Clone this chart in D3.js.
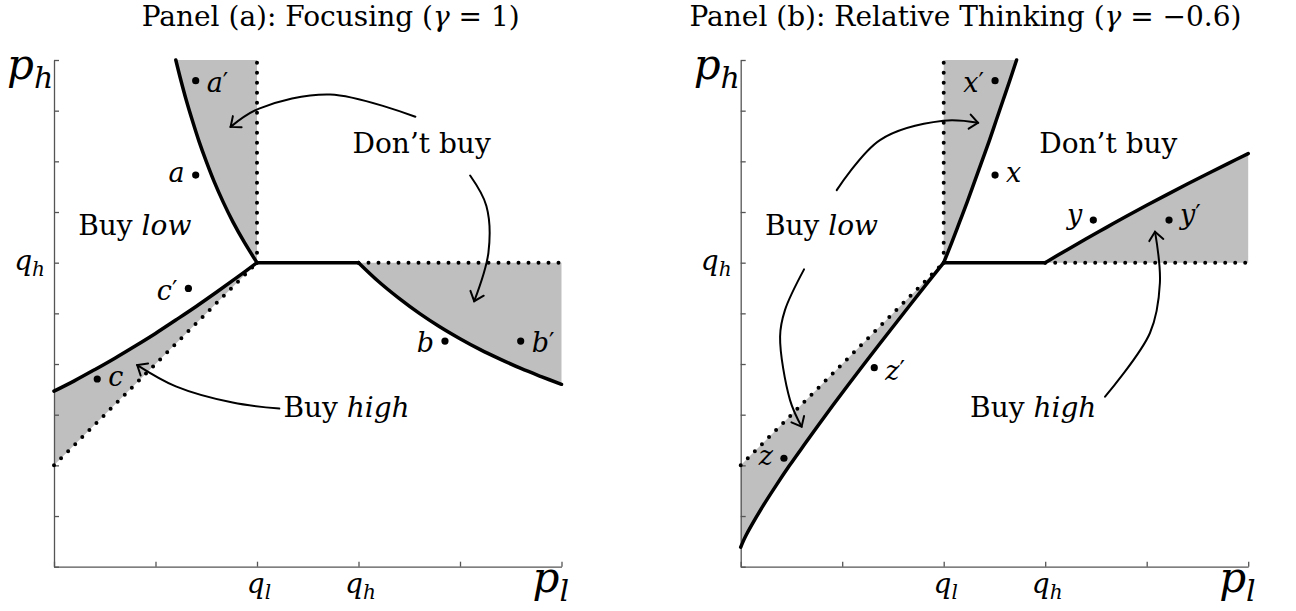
<!DOCTYPE html>
<html>
<head>
<meta charset="utf-8">
<script src="https://cdn.jsdelivr.net/npm/d3@7"></script>
<style>
  body { margin: 0; background: #fff; }
  svg text { font-family: "DejaVu Serif", serif; fill: #000; }
  .shade  { fill: #bfbfbf; stroke: none; }
  .thick  { fill: none; stroke: #000; stroke-width: 3.5; stroke-linejoin: round; stroke-linecap: round; }
  .dotted { fill: none; stroke: #000; stroke-width: 4; stroke-dasharray: 0 10; stroke-linecap: round; }
  .arrow  { fill: none; stroke: #000; stroke-width: 2; stroke-linecap: round; }
  .axis path, .axis line { stroke: #555; stroke-width: 1.3; }
</style>
</head>
<body>
<svg id="chart" width="1296" height="611"></svg>
<script>
// Boundaries in (p_l, p_h) space, q_l = 1, q_h = 1.5.

// Panel (a): focusing, gamma = 1
const focLowVsNone  = [[1.0,1.5],[0.938,1.6],[0.882,1.7],[0.833,1.8],[0.789,1.9],[0.75,2.0],
                       [0.714,2.1],[0.682,2.2],[0.652,2.3],[0.625,2.4],[0.6,2.5]];
const focHighVsNone = [[1.5,1.5],[1.6,1.406],[1.7,1.324],[1.8,1.25],[1.9,1.184],[2.0,1.125],
                       [2.1,1.071],[2.2,1.023],[2.3,0.978],[2.4,0.938],[2.5,0.9]];
const focLowVsHigh  = [[0,0.866],[0.1,0.917],[0.2,0.972],[0.3,1.029],[0.4,1.089],[0.5,1.151],
                       [0.6,1.217],[0.7,1.284],[0.8,1.354],[0.9,1.426],[1.0,1.5]];

// Panel (b): relative thinking, gamma = -0.6
const relLowVsNone  = [[1.0,1.5],[1.04,1.6],[1.078,1.7],[1.116,1.8],[1.152,1.9],[1.188,2.0],
                       [1.224,2.1],[1.258,2.2],[1.292,2.3],[1.326,2.4],[1.359,2.5]];
const relHighVsNone = [[1.5,1.5],[1.6,1.559],[1.7,1.617],[1.8,1.673],[1.9,1.729],[2.0,1.783],
                       [2.1,1.836],[2.2,1.888],[2.3,1.939],[2.4,1.989],[2.5,2.038]];
const relLowVsHigh  = [[0,0.096],[0.010,0.12],[0.024,0.15],[0.051,0.2],[0.110,0.3],[0.174,0.4],
                       [0.241,0.5],[0.312,0.6],[0.384,0.7],[0.457,0.8],[0.532,0.9],[0.608,1.0],
                       [0.685,1.1],[0.763,1.2],[0.841,1.3],[0.920,1.4],[1.0,1.5]];

// rational benchmarks (dotted) and the shared flat segment
const rationalLow    = [[1,1.5],[1,2.5]];
const rationalHigh   = [[1.5,1.5],[2.5,1.5]];
const rationalSwitch = [[0,0.5],[1,1.5]];
const flatSegment    = [[1,1.5],[1.5,1.5]];

// labelled price pairs
const pointsA = [
  { name: "a", prime: true,  p: [0.698, 2.398], side: "r", dy: 11 },
  { name: "a", prime: false, p: [0.698, 1.932], side: "l", dy: 7 },
  { name: "c", prime: true,  p: [0.662, 1.373], side: "l", dy: 12 },
  { name: "c", prime: false, p: [0.213, 0.926], side: "r", dy: 7 },
  { name: "b", prime: false, p: [1.926, 1.113], side: "l", dy: 11 },
  { name: "b", prime: true,  p: [2.299, 1.113], side: "r", dy: 11 }
];
const pointsB = [
  { name: "x", prime: true,  p: [1.253, 2.398], side: "l", dy: 11 },
  { name: "x", prime: false, p: [1.253, 1.932], side: "r", dy: 7 },
  { name: "y", prime: false, p: [1.737, 1.710], side: "l", dy: 4 },
  { name: "y", prime: true,  p: [2.110, 1.710], side: "r", dy: 4 },
  { name: "z", prime: true,  p: [0.658, 0.982], side: "r", dy: 12 },
  { name: "z", prime: false, p: [0.213, 0.535], side: "l", dy: 7 }
];

// axis ticks
const xTicks = [0, 0.5, 1, 1.5, 2, 2.5];
const yTicks = [0, 0.25, 0.5, 0.75, 1, 1.25, 1.5, 1.75, 2, 2.25, 2.5];
const xTickLabels = [{ v: 1, sub: "l" }, { v: 1.5, sub: "h" }];
const yTickLabels = [{ v: 1.5, sub: "h" }];

// region names (same spots in both panels)
const regionLabels = [
  { word: "Don’t buy", it: "",     p: [1.811, 2.042] },
  { word: "Buy ",      it: "low",  p: [0.398, 1.636] },
  { word: "Buy ",      it: "high", p: [1.441, 0.738] }
];

// arrows from region names to shaded areas
const arrowsA = [
  [[1.78,2.22],[1.36,2.33],[1.01,2.26],[0.87,2.17]],
  [[2.05,1.93],[2.13,1.78],[2.14,1.55],[2.07,1.31]],
  [[1.11,0.78],[0.88,0.81],[0.60,0.89],[0.41,0.995]]
];
const arrowsB = [
  [[0.473,1.858],[0.686,2.105],[0.998,2.200],[1.169,2.19]],
  [[0.312,1.467],[0.218,1.266],[0.194,1.135],[0.243,0.822],[0.300,0.691]],
  [[1.795,0.839],[2.016,1.153],[2.065,1.400],[2.041,1.653]]
];

const svg = d3.select('#chart');

function drawPanel(left, title, titleX, gammaText, curves, points, arrows) {
  const x = d3.scaleLinear().domain([0, 2.5]).range([left, left + 507.5]);
  const y = d3.scaleLinear().domain([0, 2.5]).range([566.7, 60]);
  const g = svg.append('g');

  const smooth = d3.line().x(d => x(d[0])).y(d => y(d[1])).curve(d3.curveCatmullRom);
  const straight = d3.line().x(d => x(d[0])).y(d => y(d[1]));

  // shaded regions: curve, then straight back along the rational boundary
  curves.forEach(c => {
    g.append('path').attr('class', 'shade')
      .attr('d', smooth(c.pts) + straight(c.close).replace('M', 'L') + 'Z');
  });

  // axes, ticks pointing inward
  g.append('g').attr('class', 'axis')
    .attr('transform', `translate(0,${y(0)})`)
    .call(d3.axisBottom(x).tickValues(xTicks).tickSizeInner(-5).tickSizeOuter(0).tickFormat(''));
  g.append('g').attr('class', 'axis')
    .attr('transform', `translate(${x(0)},0)`)
    .call(d3.axisLeft(y).tickValues(yTicks).tickSizeInner(-5).tickSizeOuter(0).tickFormat(''));

  [rationalLow, rationalHigh, rationalSwitch].forEach(d =>
    g.append('path').attr('class', 'dotted').attr('d', straight(d)));

  curves.forEach(c => g.append('path').attr('class', 'thick').attr('d', smooth(c.pts)));
  g.append('path').attr('class', 'thick').attr('d', straight(flatSegment));

  // tick labels
  xTickLabels.forEach(t => mathText(g, x(t.v) + 2, 593, 'q', t.sub, 28, 20, 'middle'));
  yTickLabels.forEach(t => mathText(g, x(0) - 9, y(t.v) + 7, 'q', t.sub, 28, 20, 'end'));
  mathText(g, x(0) - 47, 79, 'p', 'h', 42, 30, 'start');
  mathText(g, x(2.5) - 29, 592, 'p', 'l', 42, 30, 'start');

  // points
  g.selectAll('circle.pt').data(points).join('circle')
    .attr('class', 'pt')
    .attr('cx', d => x(d.p[0])).attr('cy', d => y(d.p[1])).attr('r', 3.6);
  const lab = g.selectAll('text.pt').data(points).join('text')
    .attr('class', 'pt')
    .attr('x', d => x(d.p[0]) + (d.side === 'r' ? 11 : -11))
    .attr('y', d => y(d.p[1]) + d.dy)
    .attr('text-anchor', d => d.side === 'r' ? 'start' : 'end')
    .style('font-size', '27px');
  lab.append('tspan').style('font-style', 'italic').text(d => d.name);
  lab.filter(d => d.prime).append('tspan')
    .attr('dy', -2).style('font-size', '24px').text('′');

  // region labels
  regionLabels.forEach(r => {
    const t = g.append('text').attr('x', x(r.p[0])).attr('y', y(r.p[1]))
      .attr('text-anchor', 'middle').style('font-size', '28px');
    t.append('tspan').text(r.word);
    if (r.it) t.append('tspan').style('font-style', 'italic').text(r.it);
  });

  // arrows
  arrows.forEach(a => {
    const p = g.append('path').attr('class', 'arrow').attr('d', smooth(a));
    const node = p.node();
    const len = node.getTotalLength();
    const tip = node.getPointAtLength(len);
    const back = node.getPointAtLength(len - 6);
    const ang = Math.atan2(tip.y - back.y, tip.x - back.x);
    const L = 11, s = 0.7;
    const b1 = [tip.x - L * Math.cos(ang - s), tip.y - L * Math.sin(ang - s)];
    const b2 = [tip.x - L * Math.cos(ang + s), tip.y - L * Math.sin(ang + s)];
    g.append('path').attr('class', 'arrow')
      .attr('d', `M${b1[0]},${b1[1]}L${tip.x},${tip.y}L${b2[0]},${b2[1]}`);
  });

  // title
  const tt = g.append('text').attr('x', titleX).attr('y', 26)
    .attr('text-anchor', 'middle').style('font-size', '28px');
  tt.append('tspan').text(title + ' (');
  tt.append('tspan').style('font-style', 'italic').text('γ');
  tt.append('tspan').text(' = ' + gammaText + ')');
}

function mathText(g, px, py, main, sub, size, subSize, anchor) {
  const t = g.append('text').attr('x', px).attr('y', py)
    .attr('text-anchor', anchor).style('font-style', 'italic').style('font-size', size + 'px');
  t.append('tspan').text(main);
  t.append('tspan').attr('dy', size * 0.22).style('font-size', subSize + 'px').text(sub);
}

drawPanel(54, 'Panel (a): Focusing', 330.7, '1', [
  { pts: focLowVsNone,  close: [[1, 2.5], [1, 1.5]] },
  { pts: focHighVsNone, close: [[2.5, 1.5]] },
  { pts: focLowVsHigh,  close: [[0, 0.5]] }
], pointsA, arrowsA);

drawPanel(740.7, 'Panel (b): Relative Thinking', 965.5, '−0.6', [
  { pts: relLowVsNone,  close: [[1, 2.5]] },
  { pts: relHighVsNone, close: [[2.5, 1.5]] },
  { pts: relLowVsHigh,  close: [[0, 0.5]] }
], pointsB, arrowsB);
</script>
</body>
</html>
